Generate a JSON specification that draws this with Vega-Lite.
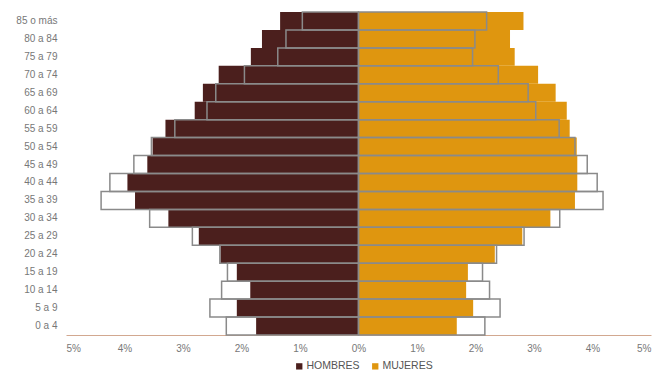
{
  "$schema": "https://vega.github.io/schema/vega-lite/v6.json",
  "autosize": "none",
  "width": 585,
  "height": 323,
  "padding": {"left": 66, "top": 12, "right": 10, "bottom": 39},
  "background": "white",
  "config": {
    "view": {"stroke": null},
    "font": "Liberation Sans"
  },
  "data": {
    "values": [
      {"edad": "85 o más", "sexo": "HOMBRES", "actual": -1.34, "anterior": -0.96},
      {"edad": "80 a 84", "sexo": "HOMBRES", "actual": -1.65, "anterior": -1.24},
      {"edad": "75 a 79", "sexo": "HOMBRES", "actual": -1.84, "anterior": -1.38},
      {"edad": "70 a 74", "sexo": "HOMBRES", "actual": -2.39, "anterior": -1.95},
      {"edad": "65 a 69", "sexo": "HOMBRES", "actual": -2.66, "anterior": -2.44},
      {"edad": "60 a 64", "sexo": "HOMBRES", "actual": -2.80, "anterior": -2.59},
      {"edad": "55 a 59", "sexo": "HOMBRES", "actual": -3.30, "anterior": -3.14},
      {"edad": "50 a 54", "sexo": "HOMBRES", "actual": -3.52, "anterior": -3.54},
      {"edad": "45 a 49", "sexo": "HOMBRES", "actual": -3.61, "anterior": -3.84},
      {"edad": "40 a 44", "sexo": "HOMBRES", "actual": -3.95, "anterior": -4.25},
      {"edad": "35 a 39", "sexo": "HOMBRES", "actual": -3.82, "anterior": -4.40},
      {"edad": "30 a 34", "sexo": "HOMBRES", "actual": -3.25, "anterior": -3.57},
      {"edad": "25 a 29", "sexo": "HOMBRES", "actual": -2.73, "anterior": -2.84},
      {"edad": "20 a 24", "sexo": "HOMBRES", "actual": -2.36, "anterior": -2.37},
      {"edad": "15 a 19", "sexo": "HOMBRES", "actual": -2.08, "anterior": -2.24},
      {"edad": "10 a 14", "sexo": "HOMBRES", "actual": -1.85, "anterior": -2.34},
      {"edad": "5 a 9", "sexo": "HOMBRES", "actual": -2.08, "anterior": -2.54},
      {"edad": "0 a 4", "sexo": "HOMBRES", "actual": -1.75, "anterior": -2.26},
      {"edad": "85 o más", "sexo": "MUJERES", "actual": 2.82, "anterior": 2.19},
      {"edad": "80 a 84", "sexo": "MUJERES", "actual": 2.59, "anterior": 1.99},
      {"edad": "75 a 79", "sexo": "MUJERES", "actual": 2.67, "anterior": 1.95},
      {"edad": "70 a 74", "sexo": "MUJERES", "actual": 3.07, "anterior": 2.39},
      {"edad": "65 a 69", "sexo": "MUJERES", "actual": 3.37, "anterior": 2.90},
      {"edad": "60 a 64", "sexo": "MUJERES", "actual": 3.56, "anterior": 3.03},
      {"edad": "55 a 59", "sexo": "MUJERES", "actual": 3.61, "anterior": 3.43},
      {"edad": "50 a 54", "sexo": "MUJERES", "actual": 3.73, "anterior": 3.70},
      {"edad": "45 a 49", "sexo": "MUJERES", "actual": 3.74, "anterior": 3.91},
      {"edad": "40 a 44", "sexo": "MUJERES", "actual": 3.74, "anterior": 4.08},
      {"edad": "35 a 39", "sexo": "MUJERES", "actual": 3.70, "anterior": 4.18},
      {"edad": "30 a 34", "sexo": "MUJERES", "actual": 3.28, "anterior": 3.44},
      {"edad": "25 a 29", "sexo": "MUJERES", "actual": 2.80, "anterior": 2.83},
      {"edad": "20 a 24", "sexo": "MUJERES", "actual": 2.33, "anterior": 2.36},
      {"edad": "15 a 19", "sexo": "MUJERES", "actual": 1.87, "anterior": 2.12},
      {"edad": "10 a 14", "sexo": "MUJERES", "actual": 1.84, "anterior": 2.24},
      {"edad": "5 a 9", "sexo": "MUJERES", "actual": 1.96, "anterior": 2.42},
      {"edad": "0 a 4", "sexo": "MUJERES", "actual": 1.68, "anterior": 2.16}
    ]
  },
  "encoding": {
    "y": {
      "field": "edad",
      "type": "nominal",
      "sort": ["85 o más", "80 a 84", "75 a 79", "70 a 74", "65 a 69", "60 a 64", "55 a 59", "50 a 54", "45 a 49", "40 a 44", "35 a 39", "30 a 34", "25 a 29", "20 a 24", "15 a 19", "10 a 14", "5 a 9", "0 a 4"],
      "scale": {"paddingInner": 0, "paddingOuter": 0},
      "axis": {
        "title": null,
        "domain": false,
        "ticks": false,
        "labelFontSize": 10,
        "labelColor": "#777777",
        "labelPadding": 9
      }
    }
  },
  "layer": [
    {
      "mark": {"type": "bar"},
      "encoding": {
        "x": {
          "field": "actual",
          "type": "quantitative",
          "scale": {"domain": [-5, 5], "nice": false},
          "axis": {
            "title": null,
            "values": [-5, -4, -3, -2, -1, 0, 1, 2, 3, 4, 5],
            "labelExpr": "abs(datum.value) + '%'",
            "grid": false,
            "ticks": false,
            "domainColor": "#d2a890",
            "domainWidth": 1,
            "labelFontSize": 10,
            "labelColor": "#777777",
            "labelPadding": 8
          }
        },
        "color": {
          "field": "sexo",
          "type": "nominal",
          "scale": {"domain": ["HOMBRES", "MUJERES"], "range": ["#4b1f1d", "#df960f"]},
          "legend": {
            "title": null,
            "orient": "none",
            "direction": "horizontal",
            "legendX": 228,
            "legendY": 349,
            "symbolType": "square",
            "symbolSize": 40,
            "symbolStrokeWidth": 0,
            "labelFontSize": 10.5,
            "labelColor": "#555555",
            "labelOffset": 2,
            "columnPadding": 10
          }
        }
      }
    },
    {
      "mark": {"type": "bar", "fill": null, "fillOpacity": 0, "stroke": "#8a8a8a", "strokeWidth": 1.5},
      "encoding": {
        "x": {"field": "anterior", "type": "quantitative"}
      }
    }
  ]
}
